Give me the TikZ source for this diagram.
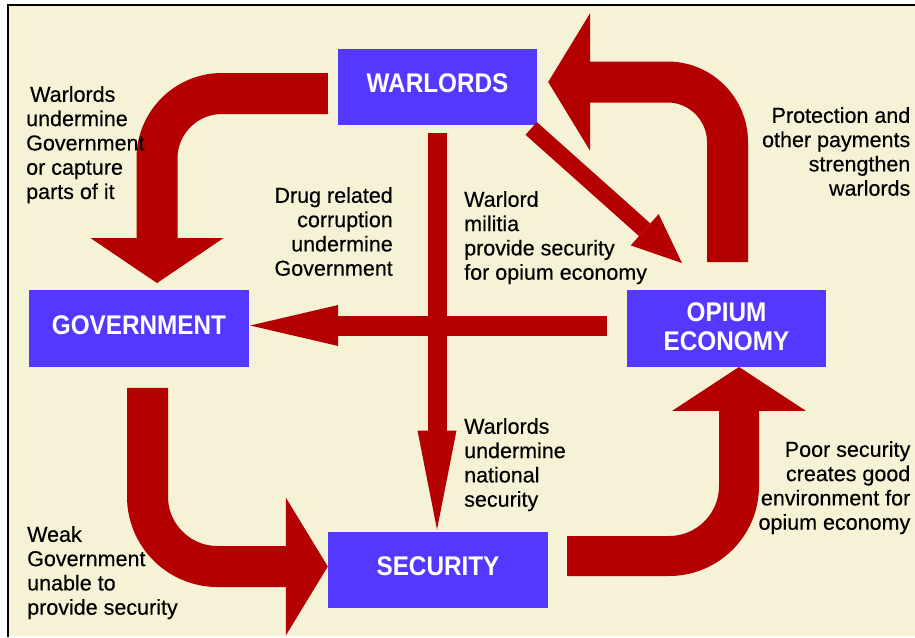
\documentclass[tikz,border=0pt]{standalone}
\usepackage{fontspec}
\setmainfont[FakeBold=0.4]{Liberation Sans}
\newfontfamily\boxfont[FakeStretch=0.9]{Liberation Sans}
\usetikzlibrary{arrows.meta}
\usetikzlibrary{positioning}
\definecolor{cream}{RGB}{246,242,214}
\definecolor{boxblue}{RGB}{84,56,255}
\definecolor{arrowred}{RGB}{180,0,0}
\tikzset{block/.style={      % Sets the properties for each blue box
           fill=boxblue,
           text=white,
           inner sep=0pt,
           minimum height=76.5pt,
           text depth=7pt,
           font=\boxfont\bfseries\fontsize{27}{29}\selectfont},
         note/.style={       % Comment texts beside the arrows
           inner sep=0pt,
           font=\fontsize{21.5}{24.3}\selectfont},
         fatarrow/.style={   % Bent arrows round the outside
           draw=arrowred,
           line width=41pt,
           rounded corners=65pt}}

\begin{document}
\begin{tikzpicture}[x=1pt, y=-1pt] % one unit is one pixel, y runs down
\useasboundingbox (0,0) rectangle (915,637);
\fill[cream] (8,5) rectangle (915,635.5);
\draw[line width=2pt] (8,637) -- (8,5) -- (915,5);

\begin{scope}[every node/.style={block}]
    \node[minimum width=199pt] (warlords) at (437.5,87) {WARLORDS};
    \node[minimum width=220pt] (government) at (139,328.5) {GOVERNMENT};
    \node[minimum width=199pt, align=center, text depth=3pt] (opium) at (726.5,328.5) {OPIUM\\ECONOMY};
    \node[minimum width=220pt] (security) at (438,570) {SECURITY};
\end{scope}

% bent arrows
\draw[fatarrow, -{Triangle[width=133pt, length=45pt, line width=0pt]}]
    ([shift={(-10,6.5)}]warlords.west) -| ([shift={(18,-7)}]government.north);
\draw[fatarrow, rounded corners=60pt, -{Triangle[width=138pt, length=42pt, line width=0pt]}]
    ([shift={(1,-28)}]opium.north) |- ([shift={(11,-5)}]warlords.east);
\draw[fatarrow, rounded corners=70pt, -{Triangle[width=138pt, length=42pt, line width=0pt]}]
    ([shift={(8.5,21)}]government.south) |- ([shift={(0,-3.5)}]security.west);
\draw[fatarrow, line width=40pt, rounded corners=70pt, -{Triangle[width=134pt, length=44pt, line width=0pt]}]
    ([shift={(19,-14)}]security.east) -| ([shift={(12.5,0)}]opium.south);

\begin{scope}[every edge/.style={draw=arrowred}]
    \path ([shift={(-6,3)}]warlords.south east) edge[line width=17pt, -{Triangle[width=42pt, length=50pt, line width=0pt]}] ([shift={(-44.5,-27)}]opium.north);
    \path ([shift={(-20,-3)}]opium.west) edge[line width=20pt, -{Triangle[width=41pt, length=88pt, line width=0pt]}] ([shift={(1,-3)}]government.east);
    \path ([shift={(-0.5,8)}]warlords.south) edge[line width=19pt, -{Triangle[width=39pt, length=99pt, line width=0pt]}] ([shift={(-1,-2)}]security.north);
\end{scope}

\begin{scope}[every node/.style={note}]
    \node[anchor=north west, align=left] (capture) at (26,86) {\hspace*{4pt}Warlords\\undermine\\Government\\or capture\\parts of it};
    \node[anchor=north east, align=right] (corruption) at (393,187) {Drug related\\corruption\\undermine\\Government};
    \node[anchor=north west, align=left] (militia) at (464,191) {Warlord\\militia\\provide security\\for opium economy};
    \node[anchor=north east, align=right] (payments) at (910.5,107) {Protection and\\other payments\\strengthen\\warlords};
    \node[anchor=north west, align=left] (national) at (464,418) {Warlords\\undermine\\national\\security};
    \node[anchor=north east, align=right] (poor) at (910.5,441) {Poor security\\creates good\\environment for\\opium economy};
    \node[anchor=north west, align=left] (weak) at (27,526) {Weak\\Government\\unable to\\provide security};
\end{scope}
\end{tikzpicture}
\end{document}
